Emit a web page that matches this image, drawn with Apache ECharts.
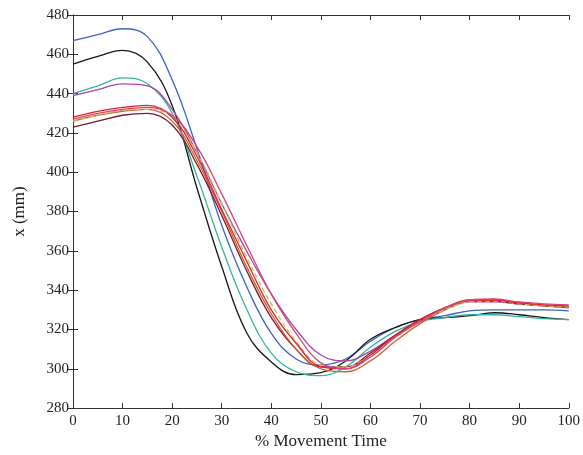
<!DOCTYPE html>
<html>
<head>
<meta charset="utf-8">
<script src="https://cdn.jsdelivr.net/npm/echarts@6/dist/echarts.min.js"></script>
<style>
html,body{margin:0;padding:0;background:#fff;}
#c{width:583px;height:455px;}
</style>
</head>
<body>
<div id="c"></div>
<script>
const xs = [0,5,10,15,20,25,30,35,40,45,50,55,60,65,70,75,80,85,90,95,100];
const xTicks = [0,10,20,30,40,50,60,70,80,90,100];
const yTicks = [280,300,320,340,360,380,400,420,440,460,480];

const blue    = [467,470,473,469,447,412,373,342,318,305,302,305,314,321,325,327,329.5,330,330,330,329.5];
const black   = [455,459,462,456,434,392,352,318.5,303.5,297,298,304,315,321,325,326,327,328.5,327.5,326,325];
const teal    = [440,444,448,445,430,398,362,330.5,308,298.5,296.5,301,311,319,324,326,327.5,327.5,326.5,325.5,325];
const purple  = [439,442,445,444,432,410,384,360,338,320,307,304,309,317,324,330,334,334,333,332,331];
const red     = [428,431,433,434,428,408,381,355,330,313,301,300,307,317,325,331,335,335,333.5,332.5,332];
const pink    = [427,430,432,433,429,413,389,363,338,318,303,300,306,316,324,331,335,335.5,334,333,332.5];
const orange  = [426,429,431,432,426,406,380,352,328,310,300,298.5,304,314,323,330,334.5,335,333.5,332,331.5];
const dashed  = [426,429,431.5,432,428,410,384,357,333,314,302,301,307,316,324,330,334,334.5,333,332,331.5];
const maroon  = [423,426,429,430,424,404,378,350,326,310,301,301,308,317,325,331,334.5,334.5,333,332,331.5];

const seriesDefs = [
  {name:'blue',   data:blue,   color:'#3a62c8'},
  {name:'black',  data:black,  color:'#151515'},
  {name:'teal',   data:teal,   color:'#36b59a'},
  {name:'purple', data:purple, color:'#a447a6'},
  {name:'maroon', data:maroon, color:'#7a1838'},
  {name:'orange', data:orange, color:'#c8642c'},
  {name:'dashed', data:dashed, color:'#b8c458', dash:true},
  {name:'red',    data:red,    color:'#e3202e'},
  {name:'pink',   data:pink,   color:'#d8407a'}
];

const chart = echarts.init(document.getElementById('c'));
const font = '"Liberation Serif", "DejaVu Serif", serif';
const axisLineStyle = {color:'#333', width:1};
chart.setOption({
  animation:false,
  backgroundColor:'#fff',
  grid:{left:73, right:10, top:15, bottom:44, containLabel:false},
  xAxis:[{
    type:'value', min:0, max:100, interval:10,
    name:'% Movement Time', nameLocation:'middle', nameGap:22,
    nameTextStyle:{fontFamily:font, fontSize:17, color:'#222'},
    axisLine:{show:true, lineStyle:axisLineStyle},
    axisTick:{show:true, inside:true, length:5, lineStyle:axisLineStyle},
    axisLabel:{fontFamily:font, fontSize:15, color:'#222', margin:5},
    splitLine:{show:false}
  },{
    type:'value', min:0, max:100, interval:10, position:'top',
    axisLine:{show:true, lineStyle:axisLineStyle},
    axisTick:{show:true, inside:true, length:5, lineStyle:axisLineStyle},
    axisLabel:{show:false}, splitLine:{show:false}
  }],
  yAxis:[{
    type:'value', min:280, max:480, interval:20,
    name:'x (mm)', nameLocation:'middle', nameGap:45, nameRotate:90,
    nameTextStyle:{fontFamily:font, fontSize:17, color:'#222'},
    axisLine:{show:true, lineStyle:axisLineStyle},
    axisTick:{show:true, inside:true, length:5, lineStyle:axisLineStyle},
    axisLabel:{fontFamily:font, fontSize:15, color:'#222', margin:4},
    splitLine:{show:false}
  },{
    type:'value', min:280, max:480, interval:20, position:'right',
    axisLine:{show:true, lineStyle:axisLineStyle},
    axisTick:{show:true, inside:true, length:5, lineStyle:axisLineStyle},
    axisLabel:{show:false}, splitLine:{show:false}
  }],
  series: seriesDefs.map(s => ({
    name:s.name, type:'line', xAxisIndex:0, yAxisIndex:0,
    data: xs.map((x,i)=>[x, s.data[i]]),
    smooth:0.4, showSymbol:false, symbol:'none',
    lineStyle:{color:s.color, width:1.3, type: s.dash ? [5,3] : 'solid'}
  }))
});
</script>
</body>
</html>
